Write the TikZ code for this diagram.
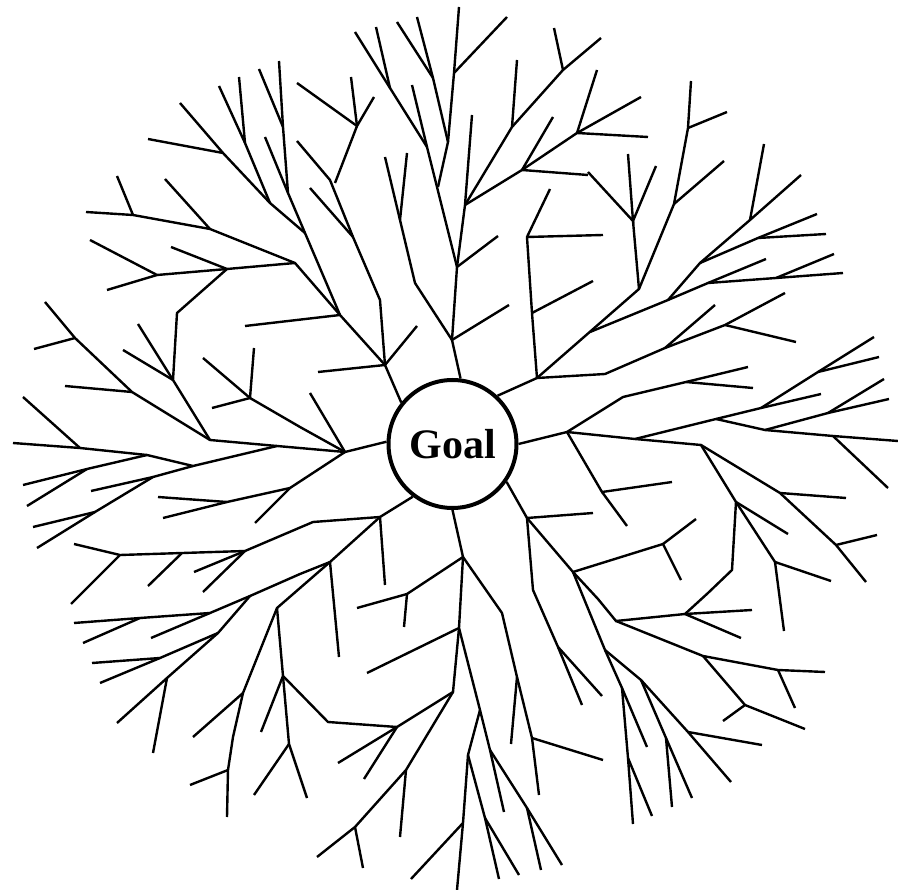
\documentclass[tikz,border=0pt]{standalone}
\usepackage{fontspec}
\setmainfont{Liberation Serif}
\usepackage{tikz}

\begin{document}
\begin{tikzpicture}[
    x=1pt, y=-1pt,
    line width=2.4pt,
    goalcircle/.style={circle, draw, line width=4pt, fill=white,
        minimum size=128pt, inner sep=0pt,
        font=\fontsize{42pt}{50pt}\selectfont\bfseries}
]
\useasboundingbox (0,0) rectangle (898,890);

% Centre
\node[goalcircle] (goal) at (452.5,444) {Goal};

% North-west
\draw (goal.141.5) -- (385,365) -- (340,315) -- (305,233) -- (288,193) -- (283,127) -- (279,61);
\draw (283,127) -- (259,69);
\draw (288,193) -- (265,137);
\draw (305,233) -- (270,203) -- (223,153) -- (180,103);
\draw (223,153) -- (148,139);
\draw (270,203) -- (245,143) -- (219,86);
\draw (245,143) -- (239,77);
\draw (340,315) -- (295,263) -- (210,229) -- (133,215) -- (86,212);
\draw (133,215) -- (117,176);
\draw (210,229) -- (165,179);
\draw (295,263) -- (227,269) -- (157,275) -- (90,240);
\draw (157,275) -- (107,290);
\draw (227,269) -- (171,247);
\draw (227,269) -- (177,313) -- (173,380) -- (210,440);
\draw (173,380) -- (138,324);
\draw (173,380) -- (123,350);
\draw (245,326) -- (340,315);
\draw (385,365) -- (380,300) -- (353,237) -- (330,180) -- (297,141);
\draw (353,237) -- (310,188);
\draw (385,365) -- (417,326);
\draw (385,365) -- (318,372);
\draw (297,83) -- (357,126) -- (374,97);
\draw (357,126) -- (351,77);
\draw (357,126) -- (335,183);

% North
\draw (goal.83) -- (452,340) -- (457,267) -- (465,205) -- (472,115);
\draw (452,340) -- (415,283) -- (400,220) -- (385,157);
\draw (400,220) -- (407,153);
\draw (452,340) -- (509,305);
\draw (457,267) -- (498,236);
\draw (457,267) -- (427,147) -- (390,88) -- (355,32);
\draw (390,88) -- (376,27);
\draw (427,147) -- (412,85);
\draw (438,187) -- (448,142) -- (433,78) -- (397,22);
\draw (433,78) -- (417,17);
\draw (448,142) -- (454,73) -- (459,7);
\draw (454,73) -- (507,17);
\draw (465,205) -- (512,127) -- (563,70) -- (601,38);
\draw (512,127) -- (517,60);
\draw (563,70) -- (554,28);
\draw (465,205) -- (522,170) -- (577,133) -- (641,97);
\draw (522,170) -- (553,117);
\draw (522,170) -- (588,175);
\draw (577,133) -- (597,70);
\draw (577,133) -- (648,137);
\draw (588,172) -- (633,221) -- (628,154);
\draw (633,221) -- (656,166);
\draw (633,221) -- (639,289);

% North-east
\draw (goal.47) -- (537,378) -- (532,313) -- (527,237) -- (550,189);
\draw (527,237) -- (603,235);
\draw (532,313) -- (593,281);
\draw (537,378) -- (639,289) -- (674,204) -- (688,128) -- (691,81);
\draw (688,128) -- (727,112);
\draw (674,204) -- (724,161);
\draw (590,332) -- (668,300) -- (700,263) -- (750,220) -- (801,175);
\draw (750,220) -- (764,144);
\draw (700,263) -- (758,238) -- (817,214);
\draw (758,238) -- (826,234);
\draw (668,300) -- (708,283) -- (776,278) -- (843,273);
\draw (708,283) -- (766,259);
\draw (776,278) -- (834,254);
\draw (537,378) -- (605,374) -- (665,348) -- (715,305);
\draw (665,348) -- (725,325) -- (785,293);
\draw (725,325) -- (796,342);

% East
\draw (goal.0) -- (567,432) -- (623,397) -- (686,382) -- (748,367);
\draw (686,382) -- (753,388);
\draw (567,432) -- (635,439) -- (716,419) -- (761,408) -- (818,372) -- (874,337);
\draw (818,372) -- (879,357);
\draw (761,408) -- (821,394);
\draw (716,419) -- (765,430) -- (828,413) -- (884,379);
\draw (828,413) -- (889,399);
\draw (765,430) -- (833,436) -- (898,441);
\draw (833,436) -- (888,488);
\draw (635,439) -- (701,445) -- (736,502) -- (775,562) -- (784,631);
\draw (701,445) -- (780,493) -- (836,545) -- (866,582);
\draw (780,493) -- (846,498);
\draw (836,545) -- (877,535);
\draw (736,502) -- (788,534);
\draw (775,562) -- (831,581);
\draw (736,502) -- (732,570) -- (708,593) -- (685,614);
\draw (567,432) -- (602,492) -- (672,482);
\draw (602,492) -- (627,526);

% South-east
\draw (goal.-35) -- (527,518) -- (593,513);
\draw (527,518) -- (573,572) -- (663,544) -- (696,519);
\draw (663,544) -- (681,580);
\draw (573,572) -- (598,599) -- (616,621) -- (685,614) -- (752,610);
\draw (685,614) -- (741,638);
\draw (616,621) -- (703,656) -- (778,670) -- (825,672);
\draw (778,670) -- (795,708);
\draw (703,656) -- (745,705) -- (805,729);
\draw (745,705) -- (723,721);
\draw (573,572) -- (605,650) -- (622,688) -- (628,758) -- (633,824);
\draw (605,650) -- (641,680) -- (666,738) -- (672,807);
\draw (641,680) -- (688,732) -- (731,782);
\draw (688,732) -- (762,745);
\draw (666,738) -- (692,798);
\draw (622,688) -- (647,747);
\draw (628,758) -- (652,816);
\draw (527,518) -- (533,590) -- (558,647) -- (582,705);
\draw (558,647) -- (602,696);

% South
\draw (goal.-90) -- (463,557) -- (459,628) -- (453,692) -- (397,727) -- (328,722) -- (283,676);
\draw (397,727) -- (338,763);
\draw (397,727) -- (364,779);
\draw (453,692) -- (406,770) -- (355,827) -- (317,857);
\draw (406,770) -- (400,837);
\draw (355,827) -- (363,868);
\draw (459,628) -- (367,673);
\draw (459,628) -- (480,710) -- (490,750) -- (504,812);
\draw (480,710) -- (468,755) -- (463,823) -- (457,890);
\draw (468,755) -- (485,818) -- (499,879);
\draw (485,818) -- (519,875);
\draw (463,823) -- (411,879);
\draw (490,750) -- (527,808) -- (562,865);
\draw (527,808) -- (541,870);
\draw (463,557) -- (407,594) -- (357,608);
\draw (407,594) -- (404,627);
\draw (463,557) -- (502,613) -- (517,677) -- (532,738) -- (603,760);
\draw (517,677) -- (511,744);
\draw (532,738) -- (539,795);

% South-west
\draw (goal.-127) -- (380,517) -- (385,585);
\draw (380,517) -- (313,522) -- (245,551) -- (120,555) -- (74,544);
\draw (120,555) -- (71,604);
\draw (182,553) -- (148,586);
\draw (245,551) -- (194,572);
\draw (245,551) -- (203,592);
\draw (380,517) -- (330,562) -- (300,574) -- (250,596) -- (210,613) -- (140,618) -- (74,623);
\draw (140,618) -- (83,643);
\draw (210,613) -- (151,638);
\draw (250,596) -- (218,633) -- (167,678) -- (117,723);
\draw (218,633) -- (160,658) -- (92,663);
\draw (160,658) -- (100,683);
\draw (167,678) -- (153,753);
\draw (330,562) -- (277,608) -- (243,693) -- (233,737) -- (228,770) -- (227,817);
\draw (243,693) -- (193,737);
\draw (228,770) -- (190,785);
\draw (277,608) -- (283,676) -- (289,744) -- (307,798);
\draw (283,676) -- (261,732);
\draw (289,744) -- (254,795);
\draw (330,562) -- (339,657);

% West
\draw (goal.178) -- (345,452) -- (310,393);
\draw (345,452) -- (300,427) -- (250,398) -- (203,358);
\draw (250,398) -- (254,348);
\draw (250,398) -- (212,408);
\draw (345,452) -- (277,446) -- (210,440) -- (132,392) -- (75,338) -- (45,302);
\draw (75,338) -- (34,349);
\draw (132,392) -- (65,386);
\draw (277,446) -- (193,466) -- (147,455) -- (80,448) -- (13,443);
\draw (80,448) -- (23,397);
\draw (147,455) -- (87,469) -- (23,485);
\draw (87,469) -- (27,506);
\draw (193,466) -- (153,477) -- (95,512) -- (37,548);
\draw (153,477) -- (91,491);
\draw (95,512) -- (33,527);
\draw (345,452) -- (290,488) -- (227,502) -- (158,497);
\draw (227,502) -- (163,518);
\draw (290,488) -- (255,523);

\end{tikzpicture}
\end{document}
